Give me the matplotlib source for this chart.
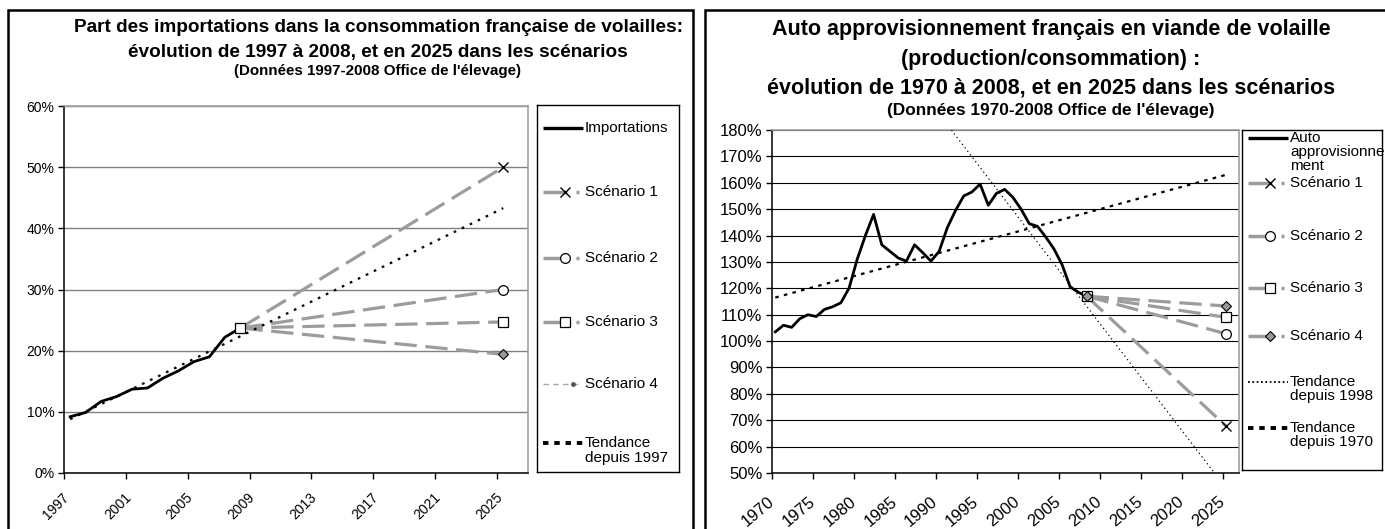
import matplotlib
matplotlib.use("Agg")
import matplotlib.pyplot as plt
import matplotlib.transforms as mtransforms
from matplotlib.patches import Rectangle

plt.rcParams['font.family'] = ['Liberation Sans', 'DejaVu Sans']

W, H, DPI = 1385, 529, 100
GRAY = '#9c9c9c'
X_SHIFT = 0.4  # points sit a little right of their year tick

# ---- left chart: share of imports (%)
imp_years = list(range(1997, 2009))
imp_share = [9.2, 9.9, 11.7, 12.5, 13.7, 13.9, 15.5, 16.7, 18.2, 19.0, 22.2, 23.7]
imp_trend_years = [1997, 2025]
imp_trend = [8.8, 43.3]
imp_scen_2025 = [50.0, 30.0, 24.7, 19.4]
imp_xticks = list(range(1997, 2026, 4))
imp_yticks = list(range(0, 61, 10))

# ---- right chart: self-sufficiency (%)
auto_years = list(range(1970, 2009))
auto_ratio = [103.5, 106.0, 105.2, 108.5, 110.0, 109.3, 112.0, 113.0, 114.5, 120.0,
              131.0, 140.0, 148.0, 136.5, 134.0, 131.5, 130.3, 136.5, 133.5, 130.3,
              134.0, 143.0, 149.5, 155.0, 156.5, 159.5, 151.5, 156.0, 157.5, 154.5,
              150.0, 144.5, 143.5, 139.5, 135.0, 129.0, 120.5, 118.5, 117.0]
trend70_years = [1970, 2025]
trend70 = [116.5, 163.0]
trend98_years = [1991.5, 2023.6]
trend98 = [180.0, 50.0]
auto_scen_2025 = [67.8, 102.8, 109.0, 113.3]
auto_xticks = list(range(1970, 2026, 5))
auto_yticks = list(range(50, 181, 10))

scen_names = ["Scénario 1", "Scénario 2", "Scénario 3", "Scénario 4"]
scen_start, scen_end = 2008, 2025
SCEN_MARKERS = [
    dict(marker='x', ms=7, mec='black', mew=1.0),
    dict(marker='o', ms=7, mfc='white', mec='black', mew=0.9),
    dict(marker='s', ms=7, mfc='white', mec='black', mew=0.9),
    dict(marker='D', ms=5.5, mfc='#999999', mec='black', mew=0.8),
]


def px_box(x0, y0, x1, y1):
    return [x0 / W, 1 - y1 / H, (x1 - x0) / W, (y1 - y0) / H]


fig = plt.figure(figsize=(W / DPI, H / DPI), dpi=DPI)
renderer = fig.canvas.get_renderer()

# panel frames
for x0, x1 in [(8, 693), (705, 1395)]:
    fig.patches.append(Rectangle((x0 / W, 1 - 545 / H), (x1 - x0) / W, 535 / H,
                                 transform=fig.transFigure, fill=False,
                                 ec='black', lw=1.8))


def fitted_title(xc, y, s, width_px, size=None, bold=True):
    t = fig.text(xc / W, 1 - y / H, s, ha='center', va='center',
                 fontweight='bold' if bold else 'normal', fontsize=12)
    if size is None:
        w = t.get_window_extent(renderer).width
        size = 12 * width_px / w
    t.set_fontsize(size)
    return size


def style_axes(ax, grid_color, grid_lw, fs_y, fs_x, xpad, rot, dx):
    ax.grid(axis='y', color=grid_color, lw=grid_lw)
    ax.set_axisbelow(True)
    for side in ('left', 'bottom'):
        ax.spines[side].set_color('black')
        ax.spines[side].set_linewidth(1.1)
    for side in ('top', 'right'):
        ax.spines[side].set_color('#a0a0a0')
        ax.spines[side].set_linewidth(1.2)
    ax.tick_params(axis='y', direction='out', length=4, width=1, labelsize=fs_y, pad=3)
    ax.tick_params(axis='x', direction='out', length=4, width=1, labelsize=fs_x, pad=xpad)
    off = mtransforms.ScaledTranslation(dx / DPI, 0, fig.dpi_scale_trans)
    for lab in ax.get_xticklabels():
        lab.set_rotation(rot)
        lab.set_ha('right')
        lab.set_va('center')
        lab.set_rotation_mode('anchor')
        lab.set_transform(lab.get_transform() + off)


def draw_scenarios(ax, start_val, ends, start_marks):
    for i, end in enumerate(ends):
        ax.plot([scen_start + X_SHIFT, scen_end + X_SHIFT], [start_val, end],
                color=GRAY, lw=2.3, dashes=(7, 2.7), zorder=3)
        ax.plot([scen_end + X_SHIFT], [end], ls='none', zorder=6, **SCEN_MARKERS[i])
    for i in start_marks:
        ax.plot([scen_start + X_SHIFT], [start_val], ls='none', zorder=6, **SCEN_MARKERS[i])


def legend_box(box, entries, fs=11, pitch=15):
    x0, y0, x1, y1 = box
    lax = fig.add_axes(px_box(*box))
    lax.set_xlim(x0, x1)
    lax.set_ylim(y1, y0)
    lax.set_xticks([])
    lax.set_yticks([])
    for sp in lax.spines.values():
        sp.set_color('black')
        sp.set_linewidth(1)
    hx0, hx1 = x0 + 6, x0 + 46
    for y, kind, lines in entries:
        if kind == 'solid':
            lax.plot([hx0, hx1], [y, y], color='black', lw=2.4, solid_capstyle='butt')
        elif kind.startswith('scen'):
            i = int(kind[-1])
            lax.plot([hx0, hx1 - 4], [y, y], color=GRAY, lw=2.5, dashes=(6.9, 2.6),
                     solid_capstyle='butt')
            lax.plot([hx0 + 22], [y], ls='none', **SCEN_MARKERS[i])
        elif kind == 'thin':
            lax.plot([hx0, hx1 - 4], [y, y], color='#a8a8a8', lw=1.0, dashes=(4, 3))
            lax.plot([hx0 + 30], [y], marker='o', ms=2.5, color='#555555', ls='none')
        elif kind == 'dot':
            lax.plot([hx0, hx1], [y, y], color='black', lw=1.3, dashes=(1, 1.4))
        elif kind == 'dash':
            lax.plot([hx0, hx1], [y, y], color='black', lw=2.8, dashes=(1.4, 1.5))
        for k, s in enumerate(lines):
            lax.text(hx1 + 2, y + k * pitch, s, fontsize=fs, va='center', ha='left')


# ================= left chart =================
s1 = fitted_title(378, 28, "Part des importations dans la consommation française de volailles:", 605)
fitted_title(378, 52, "évolution de 1997 à 2008, et en 2025 dans les scénarios", 0, size=s1)
fitted_title(378, 71, "(Données 1997-2008 Office de l'élevage)", 0, size=s1 * 0.8)

ax1 = fig.add_axes(px_box(64, 106, 528, 473))
ax1.set_xlim(1997, 2027)
ax1.set_ylim(0, 60)
ax1.set_yticks(imp_yticks, [f"{v}%" for v in imp_yticks])
ax1.set_xticks(imp_xticks, [str(v) for v in imp_xticks])
style_axes(ax1, '#808080', 1.0, 10, 10, 12, 45, 3)

ax1.plot([y + X_SHIFT for y in imp_trend_years], imp_trend, color='black', lw=1.6,
         dashes=(1.2, 2.8), zorder=4)
draw_scenarios(ax1, imp_share[-1], imp_scen_2025, start_marks=[2])
ax1.plot([y + X_SHIFT for y in imp_years], imp_share, color='black', lw=2.0,
         solid_joinstyle='round', zorder=5)

legend_box((537, 105, 679, 472), [
    (128, 'solid', ["Importations"]),
    (192, 'scen0', [scen_names[0]]),
    (258, 'scen1', [scen_names[1]]),
    (322, 'scen2', [scen_names[2]]),
    (384, 'thin', [scen_names[3]]),
    (443, 'dash', ["Tendance", "depuis 1997"]),
])

# ================= right chart =================
s2 = fitted_title(1051, 30, "Auto approvisionnement français en viande de volaille", 555)
fitted_title(1051, 59, "(production/consommation) :", 0, size=s2)
fitted_title(1051, 88, "évolution de 1970 à 2008, et en 2025 dans les scénarios", 0, size=s2)
fitted_title(1051, 110, "(Données 1970-2008 Office de l'élevage)", 0, size=s2 * 0.8)

ax2 = fig.add_axes(px_box(772, 130, 1239, 473))
ax2.set_xlim(1970, 2027)
ax2.set_ylim(50, 180)
ax2.set_yticks(auto_yticks, [f"{v}%" for v in auto_yticks])
ax2.set_xticks(auto_xticks, [str(v) for v in auto_xticks])
style_axes(ax2, 'black', 0.8, 12, 12, 15, 40, 0)

ax2.plot([y + X_SHIFT for y in trend98_years], trend98, color='black', lw=0.9,
         dashes=(1, 2.5), zorder=4)
ax2.plot([y + X_SHIFT for y in trend70_years], trend70, color='black', lw=1.6,
         dashes=(1.6, 2.4), zorder=4)
draw_scenarios(ax2, auto_ratio[-1], auto_scen_2025, start_marks=[2, 3])
ax2.plot([y + X_SHIFT for y in auto_years], auto_ratio, color='black', lw=2.0,
         solid_joinstyle='round', zorder=5)

legend_box((1242, 130, 1382, 470), [
    (138, 'solid', ["Auto", "approvisionne", "ment"]),
    (183, 'scen0', [scen_names[0]]),
    (236, 'scen1', [scen_names[1]]),
    (288, 'scen2', [scen_names[2]]),
    (336, 'scen3', [scen_names[3]]),
    (382, 'dot', ["Tendance", "depuis 1998"]),
    (428, 'dash', ["Tendance", "depuis 1970"]),
], pitch=14)

fig.savefig("out.png", dpi=DPI)
